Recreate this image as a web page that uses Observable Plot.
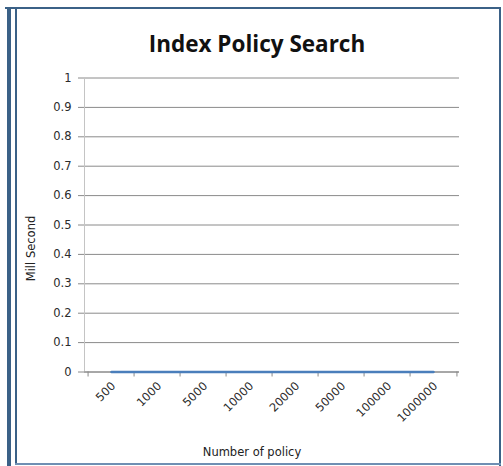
<!DOCTYPE html>
<html>
<head>
<meta charset="utf-8">
<script src="https://cdn.jsdelivr.net/npm/d3@7"></script>
<script src="https://cdn.jsdelivr.net/npm/@observablehq/plot@0.6"></script>
<style>
  html, body { margin: 0; padding: 0; background: #fff; }
  #page { position: relative; width: 503px; height: 466px; overflow: hidden; font-family: "DejaVu Sans", sans-serif; }
  #title { box-sizing: border-box; height: 60px; padding: 32.5px 0 0 11px; text-align: center;
           font: bold 22.5px/22px "Open Sans", sans-serif; color: #111; }
  #chart svg { display: block; }
  .edge { position: absolute; background: #3b6187; pointer-events: none; }
</style>
</head>
<body>
<div id="page">
  <div id="title">Index Policy Search</div>
  <div id="chart"></div>
  <!-- border around the chart area -->
  <div class="edge" style="left:5px;top:7px;width:496px;height:2px"></div>
  <div class="edge" style="left:499px;top:7px;width:2px;height:459px"></div>
  <div class="edge" style="left:7px;top:7px;width:4px;height:459px"></div>
  <div class="edge" style="left:15px;top:9px;width:2px;height:456px"></div>
  <div class="edge" style="left:15px;top:463px;width:486px;height:2px;background:#6f8fb3"></div>
</div>
<script>
// Number of policies searched and the time taken (milliseconds)
const categories = ["500", "1000", "5000", "10000", "20000", "50000", "100000", "1000000"];
const millis = [0, 0, 0, 0, 0, 0, 0, 0];
const yTicks = [0, 0.1, 0.2, 0.3, 0.4, 0.5, 0.6, 0.7, 0.8, 0.9, 1];

const data = categories.map((c, i) => ({policies: c, ms: millis[i]}));

const W = 503, H = 406;
const ML = 84, MR = 44, MT = 17.5, MB = 94.5;
const step = (W - ML - MR) / categories.length;
const FONT = "'DejaVu Sans', sans-serif";
const FS = 11.5;

const chart = Plot.plot({
  width: W,
  height: H,
  marginLeft: ML,
  marginRight: MR,
  marginTop: MT,
  marginBottom: MB,
  style: {fontFamily: FONT, fontSize: `${FS}px`, color: "#333", background: "transparent"},
  x: {type: "band", domain: categories, padding: 0, axis: null},
  y: {domain: [0, 1], axis: null},
  marks: [
    // horizontal gridlines
    Plot.gridY(yTicks, {stroke: "#8a8a8a", strokeOpacity: 1}),
    // vertical axis line
    Plot.frame({anchor: "left", stroke: "#c4c4c4"}),
    // y ticks and labels
    Plot.axisY(yTicks, {
      tickSize: 6, tickPadding: 7, stroke: "#8a8a8a",
      tickFormat: d3.format("~g"), fill: "#2b2b2b", label: null, fontSize: FS
    }),
    // horizontal axis line with category boundary ticks
    Plot.ruleY([0], {stroke: "#8a8a8a"}),
    Plot.axisX(categories, {tickSize: 5, stroke: "#8a8a8a", text: null, dx: -step / 2, label: null}),
    Plot.axisX(categories.slice(-1), {tickSize: 5, stroke: "#8a8a8a", text: null, dx: step / 2, label: null}),
    // series
    Plot.line(data, {x: "policies", y: "ms", stroke: "#4a7ebb", strokeWidth: 2.5}),
    // rotated category labels
    Plot.text(categories, {
      x: d => d, frameAnchor: "bottom", rotate: -45, textAnchor: "end",
      lineAnchor: "middle", dx: 2, dy: 12, fill: "#2b2b2b", fontSize: FS
    }),
    // axis titles
    Plot.text(["Number of policy"], {
      frameAnchor: "bottom", textAnchor: "middle", lineAnchor: "middle",
      dx: -20, dy: 80, fill: "#222", fontSize: FS
    }),
    Plot.text(["Mill Second"], {
      frameAnchor: "left", rotate: -90, textAnchor: "middle", lineAnchor: "middle",
      dx: -53, dy: 23.5, fill: "#222", fontSize: FS
    })
  ]
});

document.getElementById("chart").appendChild(chart);
</script>
</body>
</html>
